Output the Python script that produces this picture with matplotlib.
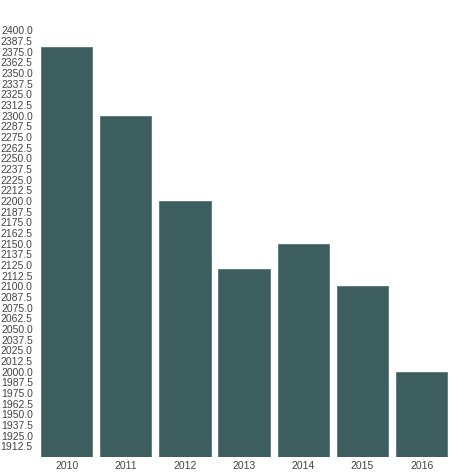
import matplotlib
matplotlib.use("Agg")
import matplotlib.pyplot as plt
import numpy as np

years = ["2010", "2011", "2012", "2013", "2014", "2015", "2016"]
values = [2380, 2300, 2200, 2120, 2150, 2100, 2000]
yticks = list(np.arange(1912.5, 2400.1, 12.5))

plt.rcParams['font.family'] = ['Liberation Sans', 'DejaVu Sans']

fig = plt.figure(figsize=(4.74, 4.74), dpi=100)
ax = fig.add_axes([0.078, 0.036, 0.874, 0.90])
x = np.arange(len(years))
ax.bar(x, values, width=0.87, color='#3c5e5f', edgecolor='#4a6a6b', linewidth=0.5)
ax.set_ylim(1900, 2400)
ax.set_xlim(-0.5, len(years) - 0.5)
ax.set_yticks(yticks)
ax.set_yticklabels([f"{v:.1f}" for v in yticks], fontsize=7.5, color='#444444')
ax.set_xticks(x)
ax.set_xticklabels(years, fontsize=7.5, color='#444444')
ax.tick_params(length=0, pad=3)
for s in ax.spines.values():
    s.set_visible(False)
fig.savefig("out.png", dpi=100, facecolor='white')
